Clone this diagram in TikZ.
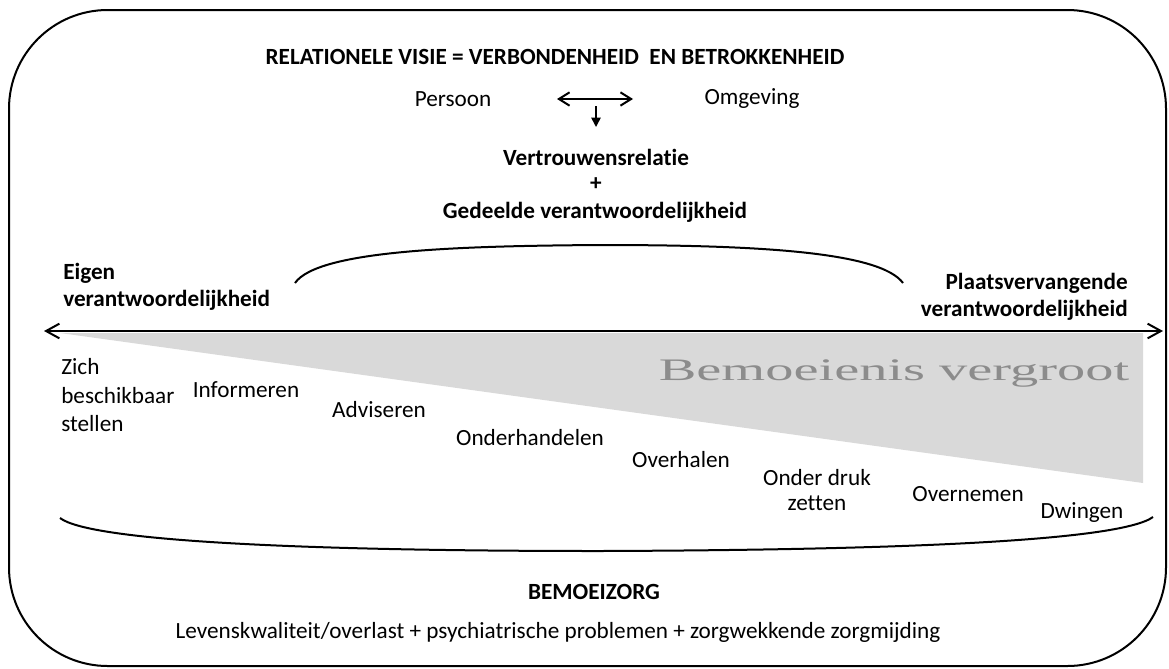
\documentclass[tikz,border=0pt]{standalone}
\usepackage{fontspec}
\setmainfont[Ligatures=NoCommon]{Carlito}
\newfontfamily\serifwide{Liberation Serif}
\usetikzlibrary{arrows.meta}
\definecolor{wedgegray}{HTML}{D9D9D9}
\definecolor{bigtext}{HTML}{8C8C8C}
\begin{document}
\begin{tikzpicture}[x=0.75pt,y=-0.75pt,
  txt/.style={font=\fontsize{17.4}{21}\selectfont, inner sep=0pt, text=black},
  btxt/.style={font=\fontsize{17.4}{20}\selectfont\bfseries, inner sep=0pt, text=black},
  frame/.style={line width=1.5pt, rounded corners=74pt},
  curve/.style={line width=1.5pt},
  mainarrow/.style={line width=1.5pt, {Straight Barb[length=10pt,width=11pt,line width=1.5pt]}-{Straight Barb[length=10pt,width=11pt,line width=1.5pt]}},
  smallarrow/.style={line width=1.5pt, {Straight Barb[length=8pt,width=10pt,line width=1.5pt]}-{Straight Barb[length=8pt,width=10pt,line width=1.5pt]}},
  downarrow/.style={line width=1.2pt, -{Triangle[length=7pt,width=7pt]}}
  ]
\useasboundingbox (0,0) rectangle (1169,668);

% outer frame
\draw[frame] (9,10) rectangle (1166,666);

% grey wedge
\fill[wedgegray] (60,333) -- (1143,333) -- (1143,483) -- cycle;
\node[inner sep=0pt, text=bigtext] (bv) at (894,373)
  {\scalebox{1.8}[1]{\fontsize{23.5}{23.5}\selectfont\serifwide Bemoeienis vergroot}};

% title block
\node[btxt] (title) at (555,57) {RELATIONELE VISIE = VERBONDENHEID~~EN BETROKKENHEID};
\node[txt] (persoon) at (453,99) {Persoon};
\node[txt] (omgeving) at (752,99) {Omgeving};
\coordinate (al) at (557,99);
\coordinate (ar) at (633,99);
\coordinate (dtop) at (596,106);
\coordinate (dbot) at (596,127);
\draw[smallarrow] (al) -- (ar);
\draw[downarrow] (dtop) -- (dbot);
\node[btxt] (vertrouwen) at (596,157) {Vertrouwensrelatie};
\node[btxt] (plus) at (596,184) {+};
\node[btxt] (gedeeld) at (595,212) {Gedeelde verantwoordelijkheid};

% upper arch
\draw[curve] (295,283) .. controls (318,250) and (460,246) .. (600,245)
  .. controls (760,245) and (880,252) .. (903,283);

% end labels
\node[btxt, anchor=north west, align=left] (eigen) at (63,263) {Eigen\\verantwoordelijkheid};
\node[btxt, anchor=north east, align=right] (plaats) at (1128,273) {Plaatsvervangende\\verantwoordelijkheid};

% main axis
\coordinate (L) at (44,331);
\coordinate (R) at (1163,331);
\draw[mainarrow] (L) -- (R);

% steps
\node[txt, anchor=north west, align=left, font=\fontsize{17.4}{21.5}\selectfont] (zich) at (61,358) {Zich\\beschikbaar\\stellen};
\node[txt] (inform) at (246,390) {Informeren};
\node[txt] (advis) at (379,410) {Adviseren};
\node[txt] (onderh) at (530,438) {Onderhandelen};
\node[txt] (overh) at (681,460) {Overhalen};
\node[txt, align=center, font=\fontsize{17.4}{19}\selectfont] (druk) at (817,490) {Onder druk\\zetten};
\node[txt] (overn) at (968,494) {Overnemen};
\node[txt] (dwing) at (1082,513) {Dwingen};

% lower arch
\draw[curve] (60,518) .. controls (90,541) and (300,551) .. (600,551)
  .. controls (900,550) and (1120,541) .. (1153,517);

% bottom texts
\node[btxt] (bemoei) at (594,592) {BEMOEIZORG};
\node[txt] (leven) at (558,632) {Levenskwaliteit/overlast + psychiatrische problemen + zorgwekkende zorgmijding};
\end{tikzpicture}
\end{document}
